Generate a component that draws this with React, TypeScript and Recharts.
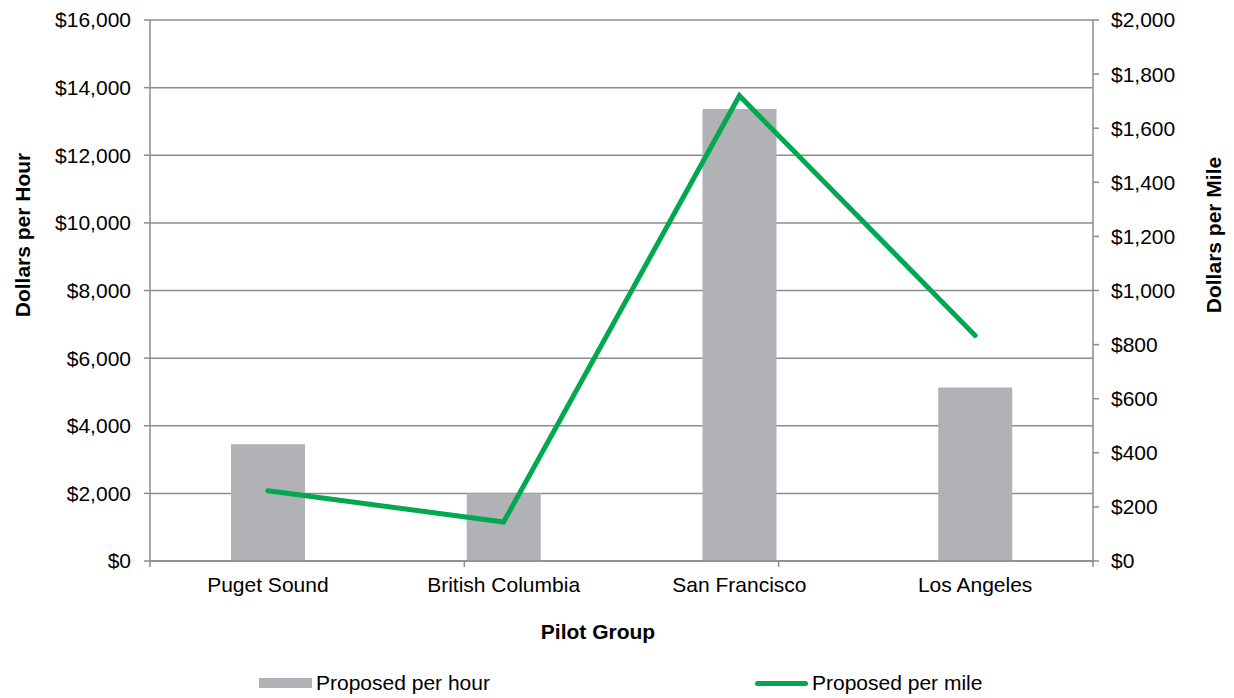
import React from 'react';
import {
  ComposedChart,
  Bar,
  Line,
  XAxis,
  YAxis,
  CartesianGrid,
} from 'recharts';

const CATEGORIES = ['Puget Sound', 'British Columbia', 'San Francisco', 'Los Angeles'];
const PER_HOUR = [3450, 2000, 13370, 5130];
const PER_MILE = [260, 144, 1720, 834];
const LEFT_TICKS = [0, 2000, 4000, 6000, 8000, 10000, 12000, 14000, 16000];
const RIGHT_TICKS = [0, 200, 400, 600, 800, 1000, 1200, 1400, 1600, 1800, 2000];
const EDGE_TICKS = [0, 1, 2, 3, 4];

const data = CATEGORIES.map((name, i) => ({
  name,
  perHour: PER_HOUR[i],
  perMile: PER_MILE[i],
}));

const FONT = '"Liberation Sans", Arial, sans-serif';
const AXIS_GRAY = '#8c8c8c';
const BAR_GRAY = '#b1b2b5';
const GREEN = '#00a94f';

const money = (v: number) => `$${v.toLocaleString('en-US')}`;

function VerticalTitle({ tx, ty, text }: { tx: number; ty: number; text: string }) {
  return (
    <text
      x={tx}
      y={ty}
      transform={`rotate(-90 ${tx} ${ty})`}
      textAnchor="middle"
      dominantBaseline="central"
      fontFamily={FONT}
      fontSize={21}
      fontWeight="bold"
      fill="#000"
    >
      {text}
    </text>
  );
}

function BottomTitle({ tx, ty, text }: { tx: number; ty: number; text: string }) {
  return (
    <text
      x={tx}
      y={ty}
      textAnchor="middle"
      dominantBaseline="central"
      fontFamily={FONT}
      fontSize={21}
      fontWeight="bold"
      fill="#000"
    >
      {text}
    </text>
  );
}

export default function App() {
  return (
    <div style={{ position: 'absolute', left: 0, top: 0, width: 1234, height: 698, background: '#fff' }}>
      <ComposedChart
        width={1234}
        height={698}
        data={data}
        margin={{ top: 20, right: 0, bottom: 0, left: 0 }}
      >
        <CartesianGrid
          yAxisId="left"
          xAxisId="cat"
          vertical={false}
          stroke={AXIS_GRAY}
          strokeWidth={1.5}
        />
        <XAxis
          xAxisId="cat"
          dataKey="name"
          height={136}
          tickLine={false}
          tickSize={0}
          tickMargin={15}
          axisLine={false}
          tick={{ fill: '#000', fontSize: 21, fontFamily: FONT }}
          label={<BottomTitle tx={598} ty={631} text="Pilot Group" />}
        />
        {/* category boundary ticks, Excel style */}
        <XAxis
          xAxisId="aEdges"
          type="number"
          domain={[0, 4]}
          ticks={EDGE_TICKS}
          allowDataOverflow
          height={1}
          tickFormatter={() => ''}
          tickSize={6}
          axisLine={{ stroke: AXIS_GRAY, strokeWidth: 1.5 }}
          tickLine={{ stroke: AXIS_GRAY, strokeWidth: 1.5 }}
        />
        <YAxis
          yAxisId="left"
          width={150}
          domain={[0, 16000]}
          ticks={LEFT_TICKS}
          tickFormatter={money}
          tickSize={6}
          tickMargin={13}
          axisLine={{ stroke: AXIS_GRAY, strokeWidth: 1.5 }}
          tickLine={{ stroke: AXIS_GRAY, strokeWidth: 1.5 }}
          tick={{ fill: '#000', fontSize: 21, fontFamily: FONT }}
          label={<VerticalTitle tx={22} ty={235} text="Dollars per Hour" />}
        />
        <YAxis
          yAxisId="right"
          orientation="right"
          width={141}
          domain={[0, 2000]}
          ticks={RIGHT_TICKS}
          tickFormatter={money}
          tickSize={6}
          tickMargin={12}
          axisLine={{ stroke: AXIS_GRAY, strokeWidth: 1.5 }}
          tickLine={{ stroke: AXIS_GRAY, strokeWidth: 1.5 }}
          tick={{ fill: '#000', fontSize: 21, fontFamily: FONT, textAnchor: 'start' }}
          label={<VerticalTitle tx={1213} ty={235} text="Dollars per Mile" />}
        />
        <Bar
          xAxisId="cat"
          yAxisId="left"
          dataKey="perHour"
          fill={BAR_GRAY}
          barSize={74}
          isAnimationActive={false}
        />
        <Line
          xAxisId="cat"
          yAxisId="right"
          dataKey="perMile"
          type="linear"
          stroke={GREEN}
          strokeWidth={5}
          strokeLinecap="round"
          strokeLinejoin="miter"
          dot={false}
          activeDot={false}
          isAnimationActive={false}
        />
      </ComposedChart>

      {/* legend */}
      <div
        style={{
          position: 'absolute',
          left: 259,
          top: 671,
          display: 'flex',
          alignItems: 'center',
          fontFamily: FONT,
          fontSize: 21,
          color: '#000',
        }}
      >
        <span style={{ display: 'inline-block', width: 53, height: 10, background: BAR_GRAY, marginRight: 4 }} />
        Proposed per hour
      </div>
      <div
        style={{
          position: 'absolute',
          left: 755,
          top: 671,
          display: 'flex',
          alignItems: 'center',
          fontFamily: FONT,
          fontSize: 21,
          color: '#000',
        }}
      >
        <span style={{ display: 'inline-block', width: 53, height: 5, borderRadius: 3, background: GREEN, marginRight: 4 }} />
        Proposed per mile
      </div>
    </div>
  );
}
